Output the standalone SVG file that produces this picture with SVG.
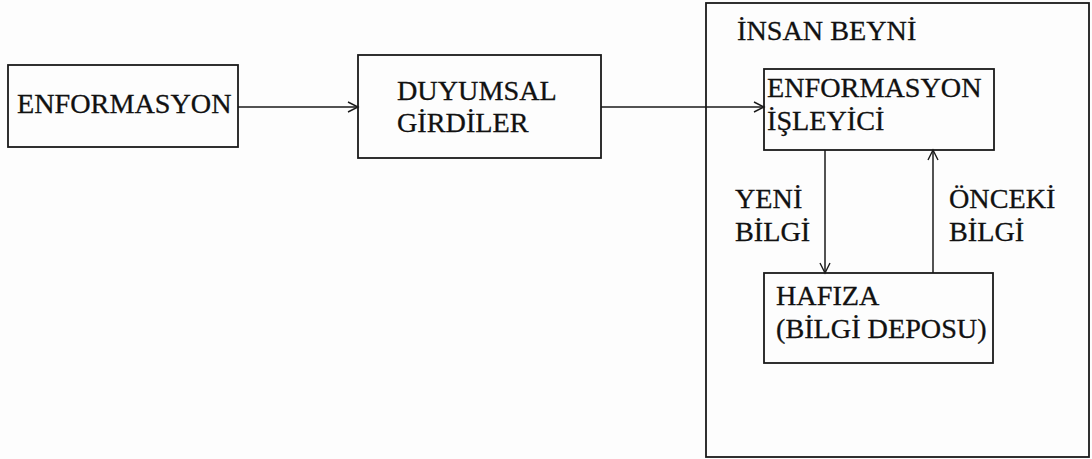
<svg xmlns="http://www.w3.org/2000/svg" width="1092" height="459" viewBox="0 0 1092 459">
<style>
.box{fill:none;stroke:#1a1a1a;stroke-width:1.8}
.t{font-family:"Liberation Serif","Times New Roman",serif;font-size:28.2px;fill:#111;stroke:#111;stroke-width:0.3}
.c{fill:none;stroke:#1a1a1a;stroke-width:1.5}
</style>
<defs>
<marker id="ah" markerWidth="14" markerHeight="12" refX="12" refY="6" orient="auto" markerUnits="userSpaceOnUse">
<path d="M2,1 L12,6 L2,11" fill="none" stroke="#1a1a1a" stroke-width="1.4"/>
</marker>
</defs>
<rect width="1092" height="459" fill="#fdfdfd"/>
<g id="insan-beyni">
<rect class="box" x="706" y="3" width="383" height="454"/>
<text class="t" x="737" y="40">İNSAN BEYNİ</text>
</g>
<g id="enformasyon">
<rect class="box" x="8" y="65" width="230" height="82"/>
<text class="t" x="17" y="113">ENFORMASYON</text>
</g>
<g id="duyumsal">
<rect class="box" x="358" y="55" width="243" height="103"/>
<text class="t" x="397" y="100">DUYUMSAL</text>
<text class="t" x="397" y="132">GİRDİLER</text>
</g>
<g id="isleyici">
<rect class="box" x="764" y="69" width="230" height="81"/>
<text class="t" x="767" y="97">ENFORMASYON</text>
<text class="t" x="767" y="130">İŞLEYİCİ</text>
</g>
<g id="hafiza">
<rect class="box" x="764" y="273" width="229" height="90"/>
<text class="t" x="776" y="305">HAFIZA</text>
<text class="t" x="776" y="338">(BİLGİ DEPOSU)</text>
</g>
<g id="connectors">
<line class="c" x1="238" y1="107" x2="358" y2="107" marker-end="url(#ah)"/>
<line class="c" x1="601" y1="107" x2="764" y2="107" marker-end="url(#ah)"/>
<line class="c" x1="825" y1="150" x2="825" y2="273" marker-end="url(#ah)"/>
<line class="c" x1="933" y1="273" x2="933" y2="150" marker-end="url(#ah)"/>
<text class="t" x="735" y="208">YENİ</text>
<text class="t" x="735" y="241">BİLGİ</text>
<text class="t" x="949" y="208">ÖNCEKİ</text>
<text class="t" x="949" y="241">BİLGİ</text>
</g>
</svg>
